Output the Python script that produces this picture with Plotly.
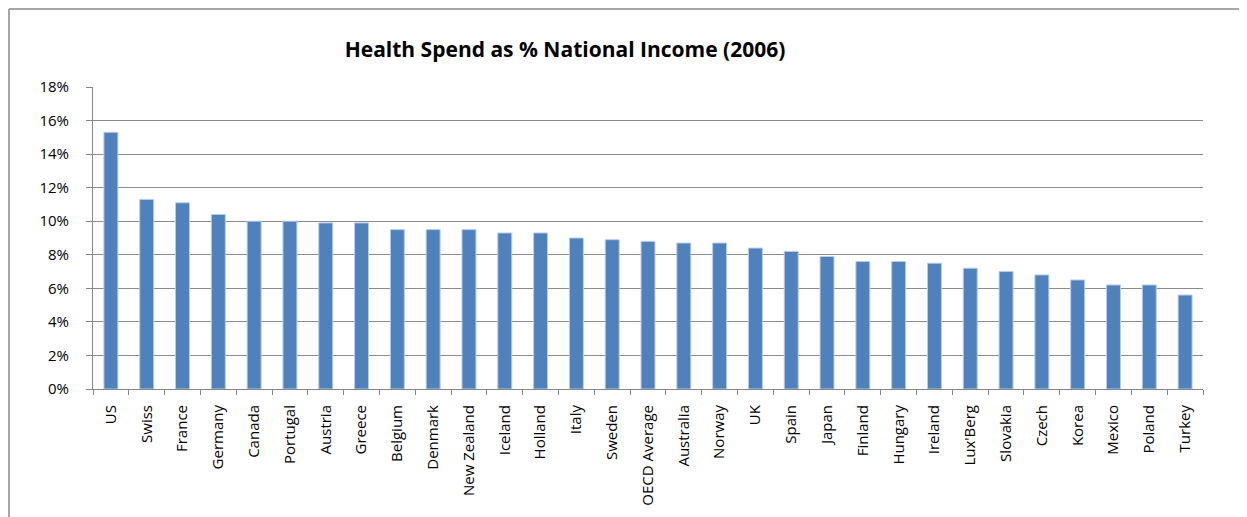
import plotly.graph_objects as go

countries = ["US", "Swiss", "France", "Germany", "Canada", "Portugal", "Austria", "Greece",
             "Belgium", "Denmark", "New Zealand", "Iceland", "Holland", "Italy", "Sweden",
             "OECD Average", "Australia", "Norway", "UK", "Spain", "Japan", "Finland",
             "Hungary", "Ireland", "Lux'Berg", "Slovakia", "Czech", "Korea", "Mexico",
             "Poland", "Turkey"]
spend_pct = [15.3, 11.3, 11.1, 10.4, 10.0, 10.0, 9.9, 9.9,
             9.5, 9.5, 9.5, 9.3, 9.3, 9.0, 8.9,
             8.8, 8.7, 8.7, 8.4, 8.2, 7.9, 7.6,
             7.6, 7.5, 7.2, 7.0, 6.8, 6.5, 6.2,
             6.2, 5.6]
y_ticks = [0, 2, 4, 6, 8, 10, 12, 14, 16, 18]
y_tick_labels = [f"{v}%" for v in y_ticks]
title = "Health Spend as % National Income (2006)"

FONT = "Open Sans"
W, H = 1239, 509
L, R, T, B = 85, 44, 79, 128

fig = go.Figure()
fig.add_trace(go.Bar(
    x=countries, y=spend_pct,
    marker=dict(color="#4F81BD", line=dict(color="#B9CDE5", width=1)),
    hoverinfo="x+y",
))

fig.update_layout(
    width=W, height=H,
    margin=dict(l=L, r=R, t=T, b=B),
    paper_bgcolor="white", plot_bgcolor="white",
    bargap=0.61,
    showlegend=False,
    font=dict(family=FONT, color="#000000", size=14),
    title=dict(text=f"<b>{title}</b>", x=557 / W, xanchor="center",
               y=1 - 42 / H, yanchor="middle",
               font=dict(family=FONT, size=21, color="#000000")),
)

fig.update_xaxes(
    type="category",
    tickangle=-90,
    showline=True, linecolor="#868686", linewidth=1,
    ticks="outside", tickson="boundaries", ticklen=5, tickcolor="#868686",
    ticklabelstandoff=9,
    tickfont=dict(family=FONT, size=15, color="#000000"),
    showgrid=False,
)
fig.update_yaxes(
    range=[0, 18],
    tickvals=y_ticks, ticktext=y_tick_labels,
    showline=True, linecolor="#868686", linewidth=1,
    ticks="outside", ticklen=6, tickcolor="#868686",
    ticklabelstandoff=14,
    showgrid=True, gridcolor="#8C8C8C", gridwidth=1,
    zeroline=False,
    tickfont=dict(family=FONT, size=15, color="#000000"),
)

pw = W - L - R
ph = H - T - B
# Chart-area border (top and left edges visible in the reference)
fig.add_shape(type="line", xref="paper", yref="paper",
              x0=-(L - 1) / pw, x1=(W - L) / pw, y0=1 + (T - 1) / ph, y1=1 + (T - 1) / ph,
              line=dict(color="#A6A6A6", width=2))
fig.add_shape(type="line", xref="paper", yref="paper",
              x0=-(L - 1) / pw, x1=-(L - 1) / pw, y0=-B / ph, y1=1 + (T - 1) / ph,
              line=dict(color="#A6A6A6", width=2))

fig.write_html("out.html")
